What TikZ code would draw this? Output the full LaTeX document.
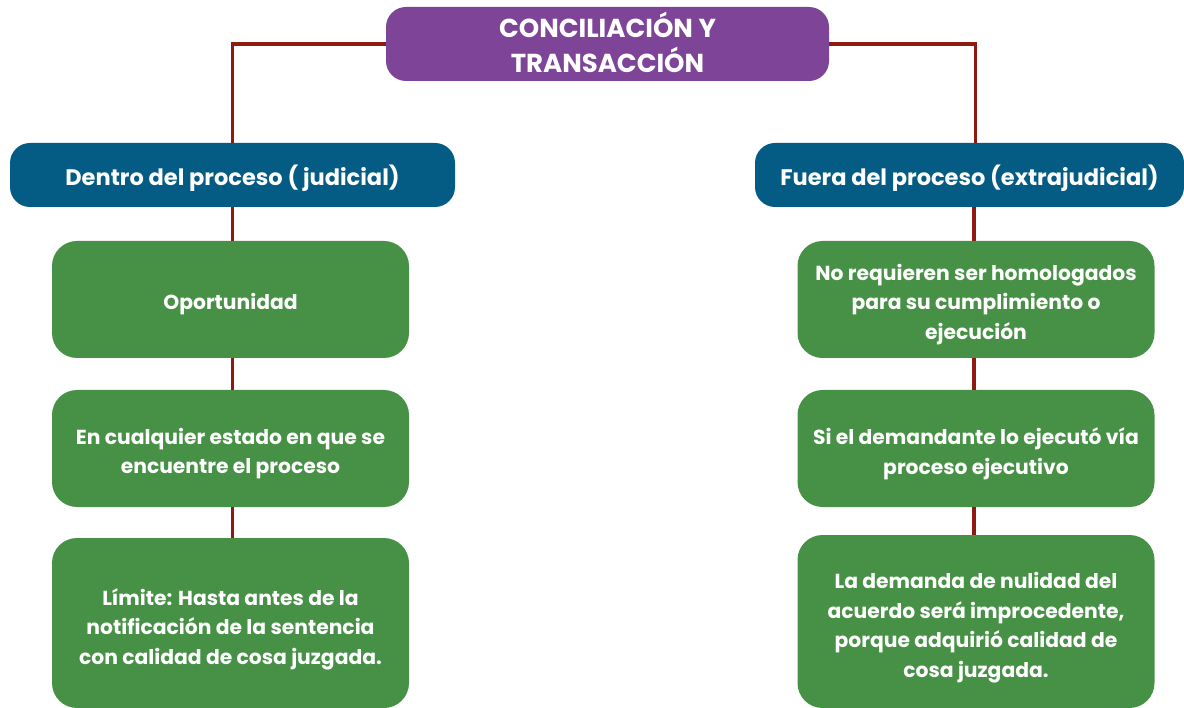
\documentclass[tikz,border=0pt]{standalone}
\usepackage{fontspec}
\setmainfont{Poppins}
\usetikzlibrary{positioning}
\definecolor{titlepurple}{HTML}{7E4497}
\definecolor{headblue}{HTML}{045C84}
\definecolor{itemgreen}{HTML}{479146}
\definecolor{linkred}{HTML}{8E1B12}
\tikzset{
  titlebox/.style={rounded corners=20pt,fill=titlepurple,minimum width=443pt,minimum height=74pt,inner sep=0pt},
  titletext/.style={text=white,font=\bfseries\fontsize{26}{35}\selectfont,align=center,inner sep=0pt},
  headbox/.style={rounded corners=20pt,fill=headblue,minimum height=64pt,inner sep=0pt},
  headtext/.style={text=white,font=\bfseries\fontsize{22.5}{27}\selectfont,inner sep=0pt},
  itembox/.style={rounded corners=25pt,fill=itemgreen,minimum width=357pt,inner sep=0pt},
  itemtext/.style={text=white,font=\bfseries\fontsize{20.3}{29.5}\selectfont,align=center,inner sep=0pt},
  link/.style={draw=linkred,line width=3.8pt}
}
\begin{document}
\begin{tikzpicture}[x=1pt,y=-1pt,line cap=butt,line join=miter]
  \useasboundingbox (0,0) rectangle (1184,708);
  % title and the two branches
  \node[titlebox] (title) at (607.5,44) {};
  \node[titletext] (titlelbl) at ([yshift=2pt]title.center) {CONCILIACIÓN Y\\TRANSACCIÓN};
  \node[headbox,minimum width=445pt] (judicial) at (232.5,175) {};
  \node[headtext] (judiciallbl) at ([yshift=-3pt]judicial.center) {Dentro del proceso ( judicial)};
  \node[headbox,minimum width=429pt] (extra) at (969.5,175) {};
  \node[headtext] (extralbl) at ([yshift=-3pt]extra.center) {Fuera del proceso (extrajudicial)};
  % left column
  \node[itembox,minimum height=117pt] (jone) at (230.5,299.5) {};
  \node[itemtext] (jonelbl) at ([yshift=-5pt]jone.center) {Oportunidad};
  \node[itembox,minimum height=117pt] (jtwo) at (230.5,448.5) {};
  \node[itemtext] (jtwolbl) at ([yshift=-5pt]jtwo.center) {En cualquier estado en que se\\encuentre el proceso};
  \node[itembox,minimum height=170pt] (jthree) at (230.5,623) {};
  \node[itemtext] (jthreelbl) at ([yshift=-6pt]jthree.center) {Límite: Hasta antes de la\\notificación de la sentencia\\con calidad de cosa juzgada.};
  % right column
  \node[itembox,minimum height=117pt] (eone) at (976,299.5) {};
  \node[itemtext] (eonelbl) at ([yshift=-5pt]eone.center) {No requieren ser homologados\\para su cumplimiento o\\ejecución};
  \node[itembox,minimum height=117pt] (etwo) at (976,448.5) {};
  \node[itemtext] (etwolbl) at ([yshift=-5pt]etwo.center) {Si el demandante lo ejecutó vía\\proceso ejecutivo};
  \node[itembox,minimum height=173pt] (ethree) at (976,621.5) {};
  \node[itemtext] (ethreelbl) at ([yshift=-6pt]ethree.center) {La demanda de nulidad del\\acuerdo será improcedente,\\porque adquirió calidad de\\cosa juzgada.};
  % connectors
  \draw[link] (title.west) -| (judicial.north);
  \draw[link] (title.east) -| ([xshift=6pt]extra.north);
  \draw[link] (judicial.south) -- (judicial.south |- jone.north);
  \draw[link] (judicial.south |- jone.south) -- (judicial.south |- jtwo.north);
  \draw[link] (judicial.south |- jtwo.south) -- (judicial.south |- jthree.north);
  \draw[link] ([xshift=4.5pt]extra.south) -- ([xshift=4.5pt]extra.south |- eone.north);
  \draw[link] ([xshift=4.5pt]extra.south |- eone.south) -- ([xshift=4.5pt]extra.south |- etwo.north);
  \draw[link] ([xshift=4.5pt]extra.south |- etwo.south) -- ([xshift=4.5pt]extra.south |- ethree.north);
\end{tikzpicture}
\end{document}
